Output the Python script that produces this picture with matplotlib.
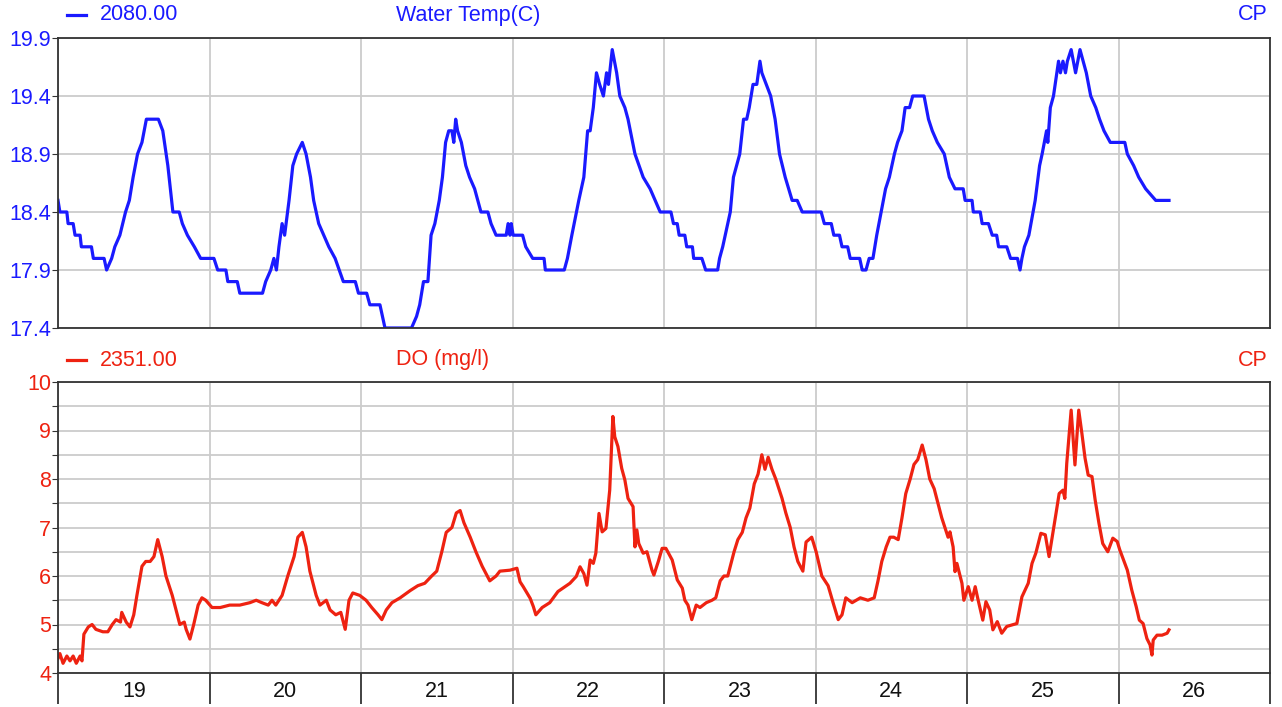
import matplotlib
matplotlib.use("Agg")
import matplotlib.pyplot as plt
from matplotlib.lines import Line2D
import numpy as np

plt.rcParams['font.family'] = ['Liberation Sans', 'DejaVu Sans']

# hours after midnight of the 19th
temp_hours = [0, 0.3, 1.4, 1.6, 2.4, 2.7, 3.5, 3.7, 5.3, 5.6, 7.3, 7.7, 8.5, 9.0, 9.8,
              10.7, 11.3, 11.9, 12.6, 13.3, 14.0, 15.9, 16.6, 17.4, 18.2, 19.2, 19.7,
              20.5, 21.6, 22.6, 24.7, 25.3, 26.6, 26.9, 28.4, 28.8, 32.4, 32.9, 33.7,
              34.2, 34.6, 35.0, 35.5, 35.9, 36.6, 37.2, 37.8, 38.7, 39.3, 40.0, 40.5,
              41.3, 42.1, 42.9, 43.9, 45.2, 47.1, 47.6, 48.9, 49.4, 51.0, 51.8, 56.0,
              56.8, 57.3, 57.9, 58.6, 59.1, 59.7, 60.4, 60.9, 61.4, 61.9, 62.4, 62.7,
              63.0, 63.3, 63.9, 64.6, 65.2, 66.0, 67.0, 68.1, 68.6, 69.4, 71.0, 71.3,
              71.6, 71.8, 72.1, 73.6, 74.1, 75.2, 77.0, 77.2, 80.2, 80.7, 81.4, 82.5,
              83.3, 83.9, 84.3, 84.8, 85.3, 85.8, 86.4, 86.9, 87.2, 87.8, 88.5, 89.0,
              89.8, 90.3, 91.4, 92.7, 93.8, 94.6, 95.4, 97.1, 97.5, 98.1, 98.4, 99.3,
              99.6, 100.5, 100.7, 102.0, 102.6, 104.5, 104.8, 105.3, 105.7, 106.5,
              107.0, 108.0, 108.6, 109.1, 109.5, 110.1, 110.7, 111.2, 111.5, 112.2,
              112.9, 113.6, 114.3, 115.2, 116.3, 117.1, 117.9, 120.9, 121.4, 122.5,
              122.9, 123.8, 124.2, 125.1, 125.5, 127.0, 127.4, 128.0, 128.5, 129.1,
              129.7, 130.4, 131.1, 131.7, 132.5, 133.0, 133.7, 134.2, 134.9, 135.4,
              137.2, 137.9, 138.5, 139.3, 140.4, 141.2, 142.1, 143.4, 143.7, 144.8,
              145.0, 146.1, 146.4, 147.4, 148.0, 148.7, 149.0, 150.3, 150.9, 152.0,
              152.4, 152.7, 153.1, 153.8, 154.8, 155.5, 155.9, 156.6, 156.8, 157.2,
              157.7, 158.5, 158.8, 159.2, 159.6, 159.9, 160.5, 161.2, 161.9, 162.9,
              163.6, 164.4, 165.0, 165.7, 166.7, 169.0, 169.4, 170.4, 171.2, 172.3,
              173.9, 176.0]
temp_vals = [18.5, 18.4, 18.4, 18.3, 18.3, 18.2, 18.2, 18.1, 18.1, 18.0, 18.0, 17.9, 18.0, 18.1, 18.2,
             18.4, 18.5, 18.7, 18.9, 19.0, 19.2, 19.2, 19.1, 18.8, 18.4, 18.4, 18.3,
             18.2, 18.1, 18.0, 18.0, 17.9, 17.9, 17.8, 17.8, 17.7, 17.7, 17.8, 17.9,
             18.0, 17.9, 18.1, 18.3, 18.2, 18.5, 18.8, 18.9, 19.0, 18.9, 18.7, 18.5,
             18.3, 18.2, 18.1, 18.0, 17.8, 17.8, 17.7, 17.7, 17.6, 17.6, 17.4, 17.4,
             17.5, 17.6, 17.8, 17.8, 18.2, 18.3, 18.5, 18.7, 19.0, 19.1, 19.1, 19.0,
             19.2, 19.1, 19.0, 18.8, 18.7, 18.6, 18.4, 18.4, 18.3, 18.2, 18.2, 18.3,
             18.2, 18.3, 18.2, 18.2, 18.1, 18.0, 18.0, 17.9, 17.9, 18.0, 18.2, 18.5,
             18.7, 19.1, 19.1, 19.3, 19.6, 19.5, 19.4, 19.6, 19.5, 19.8, 19.6, 19.4,
             19.3, 19.2, 18.9, 18.7, 18.6, 18.5, 18.4, 18.4, 18.3, 18.3, 18.2, 18.2,
             18.1, 18.1, 18.0, 18.0, 17.9, 17.9, 18.0, 18.1, 18.2, 18.4,
             18.7, 18.9, 19.2, 19.2, 19.3, 19.5, 19.5, 19.7, 19.6, 19.5,
             19.4, 19.2, 18.9, 18.7, 18.5, 18.5, 18.4, 18.4, 18.3, 18.3,
             18.2, 18.2, 18.1, 18.1, 18.0, 18.0, 17.9, 17.9, 18.0, 18.0,
             18.2, 18.4, 18.6, 18.7, 18.9, 19.0, 19.1, 19.3, 19.3, 19.4,
             19.4, 19.2, 19.1, 19.0, 18.9, 18.7, 18.6, 18.6, 18.5, 18.5,
             18.4, 18.4, 18.3, 18.3, 18.2, 18.2, 18.1, 18.1, 18.0, 18.0,
             17.9, 18.0, 18.1, 18.2, 18.5, 18.8, 18.9, 19.1, 19.0, 19.3,
             19.4, 19.7, 19.6, 19.7, 19.6, 19.7, 19.8, 19.6, 19.8, 19.6,
             19.4, 19.3, 19.2, 19.1, 19.0, 19.0, 18.9, 18.8, 18.7, 18.6,
             18.5, 18.5]

do_hours = [0, 0.3, 0.8, 1.4, 1.9, 2.4, 2.9, 3.5, 3.8, 4.1, 4.8, 5.4, 6.0, 7.1, 7.9,
            8.6, 9.2, 9.9, 10.1, 10.8, 11.4, 12.0, 12.5, 13.3, 13.9, 14.6, 15.2, 15.8,
            16.5, 17.1, 18.1, 18.7, 19.3, 20.0, 20.3, 20.9, 21.5, 22.2, 22.8, 23.4,
            24.4, 25.7, 27.2, 28.8, 30.4, 31.4, 32.3, 33.3, 33.9, 34.5, 35.5, 36.4,
            37.4, 38.0, 38.7, 39.3, 39.9, 40.9, 41.5, 42.5, 43.1, 44.0, 44.8, 45.5,
            46.1, 46.7, 47.8, 48.8, 49.7, 50.7, 51.3, 52.0, 52.9, 54.2, 55.8, 57.0,
            58.1, 59.2, 60.0, 60.8, 61.5, 62.4, 63.1, 63.7, 64.3, 65.3, 66.2, 67.2,
            68.4, 69.4, 70.0, 71.6, 72.7, 73.2, 73.7, 74.8, 75.3, 75.7, 76.7, 77.9,
            79.2, 80.3, 81.1, 81.6, 82.1, 82.7, 83.3, 83.8, 84.3, 84.8, 85.2, 85.7,
            86.2, 86.8, 87.4, 87.9, 88.2, 88.7, 89.3, 89.8, 90.3, 91.1, 91.4, 91.7,
            92.0, 92.7, 93.3, 94.1, 94.4, 95.1, 95.7, 96.3, 97.3, 98.1, 98.9, 99.3,
            99.8, 100.4, 101.1, 101.7, 102.7, 103.6, 104.2, 104.9, 105.5, 106.1,
            107.1, 107.7, 108.4, 109.0, 109.6, 110.3, 110.9, 111.5, 112.0, 112.5,
            113.1, 113.7, 114.7, 115.3, 116.0, 116.6, 117.2, 118.0, 118.5, 119.4,
            120.1, 121.0, 122.0, 122.9, 123.6, 124.2, 124.8, 125.8, 127.1, 128.3,
            129.3, 129.9, 130.5, 131.2, 131.8, 132.4, 133.1, 133.7, 134.3, 135.0,
            135.6, 136.2, 136.9, 137.5, 138.1, 138.8, 139.4, 140.0, 141.0, 141.3,
            141.8, 142.1, 142.4, 143.2, 143.5, 144.2, 144.8, 145.3, 145.7, 146.5,
            147.0, 147.6, 148.1, 148.8, 149.5, 150.3, 151.9, 152.7, 153.7, 154.3,
            154.9, 155.7, 156.4, 157.0, 157.6, 158.1, 158.6, 159.2, 159.5, 159.8,
            160.5, 161.1, 161.7, 162.2, 162.7, 163.2, 163.8, 164.3, 164.9, 165.5,
            166.3, 167.1, 167.8, 168.2, 169.4, 170.1, 170.8, 171.3, 171.9, 172.5,
            173.0, 173.3, 173.5, 174.1, 174.9, 175.7, 176.0]
do_vals = [4.3, 4.4, 4.2, 4.35, 4.25, 4.35, 4.2, 4.35, 4.25, 4.8, 4.95, 5.0, 4.9, 4.85, 4.85,
           5.0, 5.1, 5.05, 5.25, 5.05, 4.95, 5.2, 5.6, 6.2, 6.3, 6.3, 6.4, 6.75,
           6.4, 6.0, 5.6, 5.3, 5.0, 5.05, 4.9, 4.7, 5.0, 5.4, 5.55, 5.5,
           5.35, 5.35, 5.4, 5.4, 5.45, 5.5, 5.45, 5.4, 5.5, 5.4, 5.6, 6.0,
           6.4, 6.8, 6.9, 6.6, 6.1, 5.6, 5.4, 5.5, 5.3, 5.2, 5.25, 4.9,
           5.5, 5.65, 5.6, 5.5, 5.35, 5.2, 5.1, 5.3, 5.45, 5.55, 5.7, 5.8,
           5.85, 6.0, 6.1, 6.5, 6.9, 7.0, 7.3, 7.35, 7.1, 6.8, 6.5, 6.2,
           5.9, 6.0, 6.1, 6.12, 6.16, 5.88, 5.78, 5.54, 5.37, 5.2, 5.35, 5.45,
           5.68, 5.78, 5.85, 5.92, 5.99, 6.19, 6.05, 5.81, 6.33, 6.26, 6.47, 7.29,
           6.91, 6.98, 7.77, 9.29, 8.87, 8.67, 8.22, 7.98, 7.6, 7.43, 6.6, 6.95,
           6.67, 6.47, 6.5, 6.12, 6.02, 6.3, 6.57, 6.57, 6.33, 5.92, 5.75, 5.5,
           5.4, 5.1, 5.4, 5.35, 5.45, 5.5, 5.55, 5.9, 6.0, 6.0,
           6.5, 6.75, 6.9, 7.2, 7.4, 7.9, 8.1, 8.5, 8.2, 8.45,
           8.2, 8.0, 7.6, 7.3, 7.0, 6.6, 6.3, 6.1, 6.7, 6.8,
           6.5, 6.0, 5.8, 5.4, 5.1, 5.2, 5.55, 5.45, 5.55, 5.5,
           5.55, 5.9, 6.3, 6.6, 6.8, 6.8, 6.75, 7.2, 7.7, 8.0,
           8.3, 8.4, 8.7, 8.4, 8.0, 7.8, 7.5, 7.2, 6.8, 6.91,
           6.6, 6.09, 6.26, 5.85, 5.5, 5.78, 5.5, 5.78, 5.54, 5.09,
           5.47, 5.3, 4.89, 5.06, 4.82, 4.96, 5.02, 5.57, 5.85, 6.26,
           6.47, 6.88, 6.85, 6.4, 6.88, 7.29, 7.7, 7.77, 7.6, 8.32,
           9.42, 8.29, 9.42, 8.94, 8.43, 8.08, 8.05, 7.57, 7.09, 6.67,
           6.5, 6.78, 6.71, 6.54, 6.12, 5.71, 5.37, 5.09, 5.02, 4.71,
           4.58, 4.37, 4.68, 4.78, 4.78, 4.82, 4.89]

days = [19, 20, 21, 22, 23, 24, 25, 26]
temp_ticks = [17.4, 17.9, 18.4, 18.9, 19.4, 19.9]
do_ticks = [4, 4.5, 5, 5.5, 6, 6.5, 7, 7.5, 8, 8.5, 9, 9.5, 10]
do_labels = ['4', '', '5', '', '6', '', '7', '', '8', '', '9', '', '10']

blue = '#1a1aff'
red = '#ee2211'
grid_c = '#cccccc'
spine_c = '#333333'
fs = 15.5

fig = plt.figure(figsize=(12.82, 7.07), dpi=100)
ax1 = fig.add_axes([58/1282, 1-328/707, 1212/1282, 290/707])
ax2 = fig.add_axes([58/1282, 1-673/707, 1212/1282, 291/707])

t1 = 19 + np.array(temp_hours)/24
t2 = 19 + np.array(do_hours)/24
ax1.plot(t1, temp_vals, color=blue, lw=2.3, solid_joinstyle='round')
ax2.plot(t2, do_vals, color=red, lw=2.3, solid_joinstyle='round')

for ax in (ax1, ax2):
    ax.set_xlim(19, 27)
    ax.set_axisbelow(True)
    ax.grid(True, color=grid_c, lw=1.3)
    for s in ax.spines.values():
        s.set_color(spine_c)
        s.set_linewidth(1.3)
    ax.set_xticks(range(19, 28))

ax1.set_ylim(17.4, 19.9)
ax1.set_yticks(temp_ticks)
ax1.set_yticklabels([f'{v:.1f}' for v in temp_ticks])
ax1.tick_params(axis='y', colors=spine_c, labelcolor=blue, labelsize=fs, length=4, pad=1)
ax1.tick_params(axis='x', length=0, labelbottom=False)

ax2.set_ylim(4, 10)
ax2.set_yticks(do_ticks)
ax2.set_yticklabels(do_labels)
ax2.tick_params(axis='y', colors=spine_c, labelcolor=red, labelsize=fs, length=4, pad=1)
ax2.tick_params(axis='x', which='major', length=22, width=1.3, color=spine_c, labelbottom=False)
ax2.set_xticks([d + 0.5 for d in days], minor=True)
ax2.set_xticklabels([str(d) for d in days], minor=True)
ax2.tick_params(axis='x', which='minor', length=0, labelsize=fs, pad=6, labelcolor='#111111')

# header rows: short legend dash, value, name, "CP"
for ypx, col, val, name in [(15, blue, '2080.00', 'Water Temp(C)'),
                            (360, red, '2351.00', 'DO (mg/l)')]:
    yf = 1 - ypx/707
    fig.add_artist(Line2D([67/1282, 86/1282], [yf, yf], color=col, lw=2.3,
                          transform=fig.transFigure))
    fig.text(100/1282, yf, val, color=col, fontsize=fs, va='center')
    fig.text(396/1282, yf, name, color=col, fontsize=fs, va='center')
    fig.text(1268/1282, yf, 'CP', color=col, fontsize=fs, va='center', ha='right')

fig.savefig('out.png', dpi=100)
